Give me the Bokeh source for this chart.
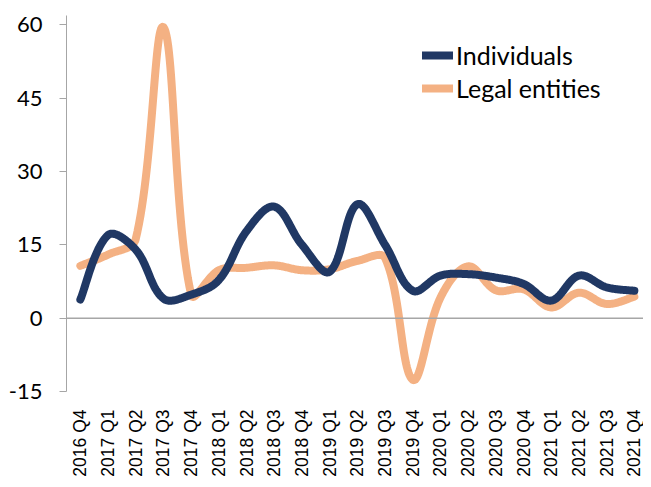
import numpy as np
from bokeh.plotting import figure
from bokeh.models import Span, FixedTicker, Legend, LegendItem, Range1d
from bokeh.embed import file_html
from bokeh.resources import INLINE

quarters = ["2016 Q4", "2017 Q1", "2017 Q2", "2017 Q3", "2017 Q4",
            "2018 Q1", "2018 Q2", "2018 Q3", "2018 Q4",
            "2019 Q1", "2019 Q2", "2019 Q3", "2019 Q4",
            "2020 Q1", "2020 Q2", "2020 Q3", "2020 Q4",
            "2021 Q1", "2021 Q2", "2021 Q3", "2021 Q4"]
individuals = [3.8, 17.0, 14.0, 4.0, 4.8, 7.8, 17.8, 22.8, 15.0, 9.5, 23.3,
               15.0, 5.6, 8.7, 9.0, 8.3, 7.0, 3.6, 8.7, 6.3, 5.6]
legal_entities = [10.7, 13.0, 16.2, 59.5, 4.8, 9.8, 10.3, 10.8, 9.8, 10.0, 11.7,
                  12.3, -12.6, 4.2, 10.6, 5.7, 5.9, 2.2, 5.2, 2.9, 4.4]
y_ticks = [-15, 0, 15, 30, 45, 60]
y_tick_labels = ["-15", "0", "15", "30", "45", "60"]

NAVY = "#203864"
ORANGE = "#F4B183"

W, H = 643, 479
BL, BR, BT, BB = 66, 0, 15, 84
X0, X1 = -0.5, 20.33
Y0, Y1 = -15, 61.9
UX = (W - BL - BR) / (X1 - X0)
UY = (H - BT - BB) / (Y1 - Y0)


def smooth(xs, ys, n=30, k=0.36):
    """Smoothed line: chord-weighted cubic Bezier through the points (screen space)."""
    P = np.column_stack([np.asarray(xs, float) * UX, np.asarray(ys, float) * UY])
    m = len(P)
    d = np.linalg.norm(np.diff(P, axis=0), axis=1)
    out = []
    for i in range(m - 1):
        p1, p2 = P[i], P[i + 1]
        if i > 0:
            t1 = P[i + 1] - P[i - 1]
            c1 = p1 + t1 * d[i] / (d[i - 1] + d[i]) * k
        else:
            c1 = p1 + (p2 - p1) * k / 2
        if i + 2 < m:
            t2 = P[i + 2] - P[i]
            c2 = p2 - t2 * d[i] / (d[i] + d[i + 1]) * k
        else:
            c2 = p2 - (p2 - p1) * k / 2
        t = np.linspace(0, 1, n, endpoint=(i == m - 2))[:, None]
        seg = ((1 - t) ** 3) * p1 + 3 * ((1 - t) ** 2) * t * c1 + 3 * (1 - t) * t ** 2 * c2 + t ** 3 * p2
        out.append(seg)
    out = np.vstack(out)
    return out[:, 0] / UX, out[:, 1] / UY


xi = list(range(len(quarters)))

p = figure(width=W, height=H, output_backend="svg", toolbar_location=None,
           x_range=Range1d(X0, X1), y_range=Range1d(Y0, Y1),
           min_border_left=BL, min_border_right=BR, min_border_top=BT,
           min_border_bottom=BB)
p.outline_line_color = None
p.background_fill_color = "white"
p.border_fill_color = "white"
p.grid.visible = False

p.add_layout(Span(location=0, dimension="width", line_color="#A6A6A6", line_width=1.5))

sx, sy = smooth(xi, legal_entities)
r2 = p.line(sx, sy, line_color=ORANGE, line_width=8, line_cap="round", line_join="round")
sx, sy = smooth(xi, individuals)
r1 = p.line(sx, sy, line_color=NAVY, line_width=8, line_cap="round", line_join="round")

# y axis
p.yaxis.ticker = FixedTicker(ticks=y_ticks)
p.yaxis.major_label_overrides = dict(zip(y_ticks, y_tick_labels))
p.yaxis.axis_line_color = "#A6A6A6"
p.yaxis.major_tick_line_color = "#A6A6A6"
p.yaxis.major_tick_out = 7
p.yaxis.major_tick_in = 0
p.yaxis.minor_tick_line_color = None
p.yaxis.major_label_text_font = "Lato"
p.yaxis.major_label_text_font_size = "22px"
p.yaxis.major_label_text_color = "#000000"
p.yaxis.major_label_standoff = 17

# x axis
p.xaxis.ticker = FixedTicker(ticks=xi)
p.xaxis.major_label_overrides = {i: q for i, q in enumerate(quarters)}
p.xaxis.major_label_orientation = np.pi / 2
p.xaxis.axis_line_color = None
p.xaxis.major_tick_line_color = None
p.xaxis.minor_tick_line_color = None
p.xaxis.major_label_text_font = "Liberation Sans"
p.xaxis.major_label_text_font_size = "17.5px"
p.xaxis.major_label_text_color = "#000000"
p.xaxis.major_label_standoff = 12

legend = Legend(items=[LegendItem(label="Individuals", renderers=[r1]),
                       LegendItem(label="Legal entities", renderers=[r2])],
                location=(356, 288), padding=0, margin=0, spacing=3,
                glyph_width=31, glyph_height=20, label_standoff=3,
                label_text_font="Lato", label_text_font_size="25px",
                label_text_color="#000000",
                border_line_color=None, background_fill_alpha=0)
p.add_layout(legend)

open("out.html", "w").write(file_html(p, INLINE))
